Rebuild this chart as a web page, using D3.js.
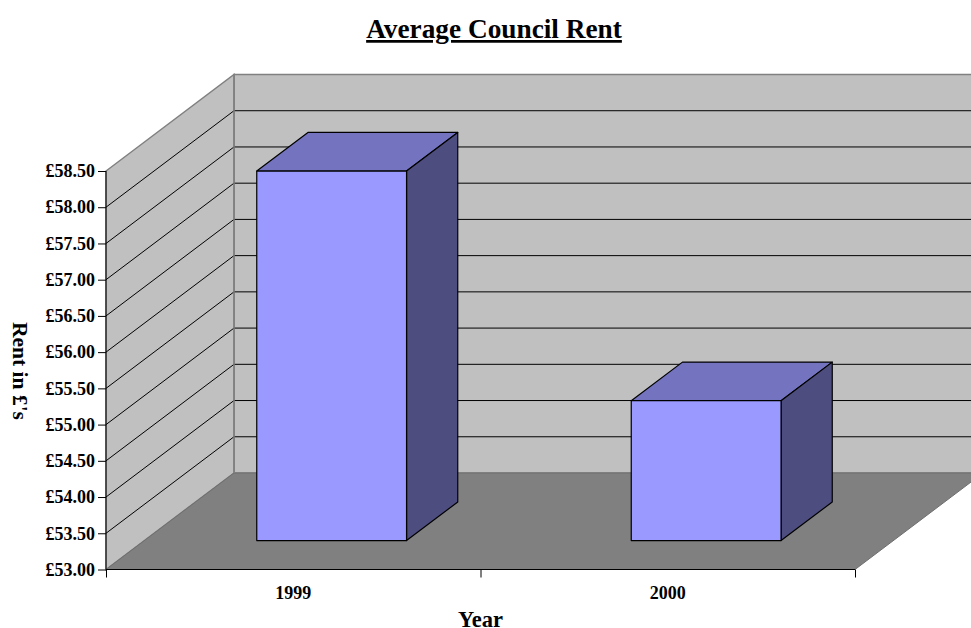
<!DOCTYPE html>
<html><head><meta charset="utf-8">
<style>html,body{margin:0;padding:0;background:#fff}svg{display:block}text{font-family:"Liberation Serif",serif;font-weight:bold;fill:#000}</style>
<script src="https://cdn.jsdelivr.net/npm/d3@7/dist/d3.min.js"></script>
</head><body><svg id="c" width="971" height="628"></svg>
<script>
const categories = ["1999", "2000"];
const rents = [58.1, 54.93];
const yTicks = [53,53.5,54,54.5,55,55.5,56,56.5,57,57.5,58,58.5];
const svg = d3.select("#c");
const x = d3.scaleBand().domain(categories).range([106,855]);
const y = d3.scaleLinear().domain([53,58.5]).range([569.5,171]);
const dx = 128, dy = -96.5;
const barInner = x.bandwidth()*0.3, barW = x.bandwidth()*0.4;
const P = (px,py,d)=>[px+dx*d, py+dy*d];
const path = pts => "M"+pts.map(p=>p.join(",")).join("L")+"Z";
const x0=x.range()[0], x1=x.range()[1], y0=y(53), yT=y(58.5);
svg.append("path").attr("d",path([P(x0,y0,1),P(x1,y0,1),P(x1,yT,1),P(x0,yT,1)])).attr("fill","#c0c0c0").attr("stroke","#808080").attr("stroke-width",1.5);
svg.append("path").attr("d",path([P(x0,y0,0),P(x0,y0,1),P(x0,yT,1),P(x0,yT,0)])).attr("fill","#c0c0c0").attr("stroke","#808080").attr("stroke-width",1.5);
svg.append("path").attr("d",path([P(x0,y0,0),P(x1,y0,0),P(x1,y0,1),P(x0,y0,1)])).attr("fill","#808080").attr("stroke","#6e6e6e").attr("stroke-width",1);
svg.append("g").selectAll("path").data(yTicks.slice(1,-1)).join("path")
  .attr("d",v=>{const a=P(x0,y(v),0),b=P(x0,y(v),1),c=P(x1,y(v),1);return "M"+a+"L"+b+"L"+c;})
  .attr("fill","none").attr("stroke","#000").attr("stroke-width",1);
svg.append("line").attr("x1",x0+dx).attr("x2",x0+dx).attr("y1",y0+dy).attr("y2",yT+dy).attr("stroke","#808080").attr("stroke-width",1.5);
const bars = svg.append("g").selectAll("g").data(categories.map((c,i)=>({c,v:rents[i]}))).join("g");
const F=0.3,B=0.7;
const face=(d,fn)=>{const l=x(d.c)+barInner,r=l+barW,t=y(d.v),b=y0;return path(fn(l,r,t,b));};
const st=s=>s.attr("stroke","#000").attr("stroke-width",1.2).attr("stroke-linejoin","round");
st(bars.append("path").attr("d",d=>face(d,(l,r,t,b)=>[P(l,t,F),P(r,t,F),P(r,t,B),P(l,t,B)])).attr("fill","#7373bf"));
st(bars.append("path").attr("d",d=>face(d,(l,r,t,b)=>[P(r,t,F),P(r,b,F),P(r,b,B),P(r,t,B)])).attr("fill","#4d4d80"));
st(bars.append("path").attr("d",d=>face(d,(l,r,t,b)=>[P(l,t,F),P(r,t,F),P(r,b,F),P(l,b,F)])).attr("fill","#9999ff"));
const ay = svg.append("g").attr("transform",`translate(${x0},0)`).call(d3.axisLeft(y).tickValues(yTicks).tickSize(8).tickPadding(3).tickFormat(v=>"£"+d3.format(".2f")(v)));
ay.attr("font-family",null).attr("font-size",null);
ay.selectAll("path").attr("stroke","#000").attr("stroke-width",1).attr("d",`M0,${yT}V${y0}`);
ay.selectAll("line").attr("stroke","#000");
ay.selectAll("text").style("font-size","18px");
const tickX = d3.scaleLinear().domain([0,2]).range([x0,x1]);
const ax = svg.append("g").attr("transform",`translate(0,${y0})`).call(d3.axisBottom(tickX).tickValues([0,1,2]).tickSize(8).tickFormat(""));
ax.selectAll("path").attr("stroke","#000").attr("stroke-width",1).attr("d",`M${x0},0H${x1}`);
ax.selectAll("line").attr("stroke","#000");
svg.append("g").selectAll("text").data(categories).join("text").attr("x",d=>x(d)+x.bandwidth()/2).attr("y",599).attr("text-anchor","middle").style("font-size","18px").text(d=>d);
svg.append("text").attr("x",480.5).attr("y",627).attr("text-anchor","middle").style("font-size","22.5px").text("Year");
svg.append("text").attr("transform","translate(13,371) rotate(90)").attr("text-anchor","middle").style("font-size","21.5px").text("Rent in £'s");
svg.append("text").attr("x",494).attr("y",38).attr("text-anchor","middle").style("font-size","27.3px").style("text-decoration","underline").text("Average Council Rent");
</script></body></html>
